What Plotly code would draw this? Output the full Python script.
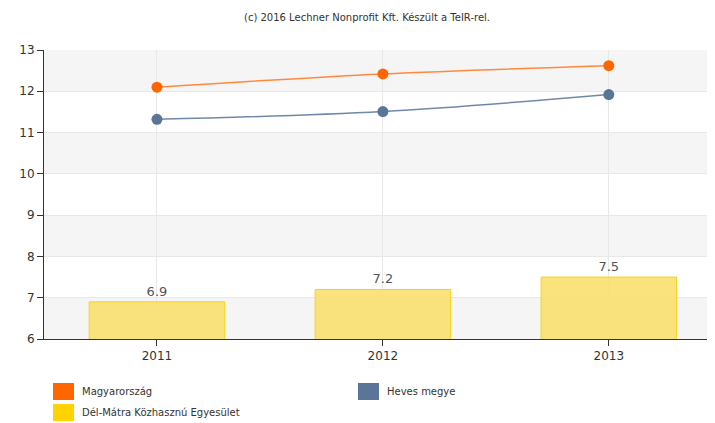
"""Line + bar chart: TeIR export recreated in plotly"""
import plotly.graph_objects as go

years = ["2011", "2012", "2013"]
magyarorszag = [12.1, 12.42, 12.62]
heves = [11.32, 11.51, 11.92]
del_matra = [6.9, 7.2, 7.5]
bar_labels = ["6.9", "7.2", "7.5"]

FONT = "DejaVu Sans"
xpos = list(range(len(years)))

fig = go.Figure()

# Bars first so the lines sit on top
fig.add_trace(
    go.Bar(
        x=xpos,
        y=del_matra,
        width=0.6,
        marker={"color": "rgba(249,224,110,0.9)", "line": {"color": "#f7d21a", "width": 1}},
        text=bar_labels,
        textposition="outside",
        textfont={"family": FONT, "size": 13, "color": "#555"},
        cliponaxis=False,
        name="Dél-Mátra Közhasznú Egyesület",
        showlegend=False,
    )
)
fig.add_trace(
    go.Scatter(
        x=xpos,
        y=magyarorszag,
        mode="lines+markers",
        line={"color": "#ff8a3d", "width": 1.5, "shape": "spline"},
        marker={"color": "#ff6600", "size": 11},
        name="Magyarország",
        showlegend=False,
    )
)
fig.add_trace(
    go.Scatter(
        x=xpos,
        y=heves,
        mode="lines+markers",
        line={"color": "#7088a8", "width": 1.5, "shape": "spline"},
        marker={"color": "#5b7598", "size": 11},
        name="Heves megye",
        showlegend=False,
    )
)

# Alternating background bands
shapes = []
for lo in range(6, 13, 2):
    shapes.append(
        dict(type="rect", xref="paper", yref="y", x0=0, x1=1, y0=lo, y1=lo + 1,
             fillcolor="#f5f5f5", line={"width": 0}, layer="below")
    )

# page body has an 8px margin, so the figure is 8px smaller than the window
OFF = 8
W, H = 715 - OFF, 423 - OFF
L, T, B = 44 - OFF, 50 - OFF, 84
pw, ph = W - L, H - T - B


def px_x(px):
    return (px - OFF - L) / pw


def px_y(py):
    return (H - B - (py - OFF)) / ph


# Custom legend (square swatches)
legend_items = [
    ("Magyarország", "#ff6600", 53, 383),
    ("Heves megye", "#5b7598", 358, 383),
    ("Dél-Mátra Közhasznú Egyesület", "#ffd200", 53, 404),
]
annotations = []
for label, color, px, py in legend_items:
    shapes.append(
        dict(type="rect", xref="paper", yref="paper",
             x0=px_x(px), x1=px_x(px + 21), y0=px_y(py), y1=px_y(py + 17),
             fillcolor=color, line={"width": 0})
    )
    annotations.append(
        dict(text=label, xref="paper", yref="paper", x=px_x(px + 27),
             y=px_y(py + 8.5), xanchor="left", yanchor="middle",
             showarrow=False, font={"family": FONT, "size": 10, "color": "#333"})
    )

annotations.append(
    dict(text="(c) 2016 Lechner Nonprofit Kft. Készült a TeIR-rel.", xref="paper", yref="paper",
         x=px_x(367), y=px_y(17), xanchor="center", yanchor="middle",
         showarrow=False, font={"family": FONT, "size": 10, "color": "#333"})
)

fig.update_layout(
    width=W,
    height=H,
    margin={"l": L, "r": 0, "t": T, "b": B},
    plot_bgcolor="white",
    paper_bgcolor="white",
    shapes=shapes,
    annotations=annotations,
)
axis_style = dict(
    ticks="outside",
    ticklen=6,
    tickcolor="#333",
    showline=True,
    linecolor="#333",
    linewidth=1,
    showgrid=True,
    gridcolor="#e8e8e8",
    tickfont={"family": FONT, "size": 12, "color": "#333"},
    zeroline=False,
)
fig.update_xaxes(range=[-0.5, 2.47], tickvals=xpos, ticktext=years, **axis_style)
fig.update_yaxes(range=[6, 13], dtick=1, **axis_style)

fig.write_html("out.html")
